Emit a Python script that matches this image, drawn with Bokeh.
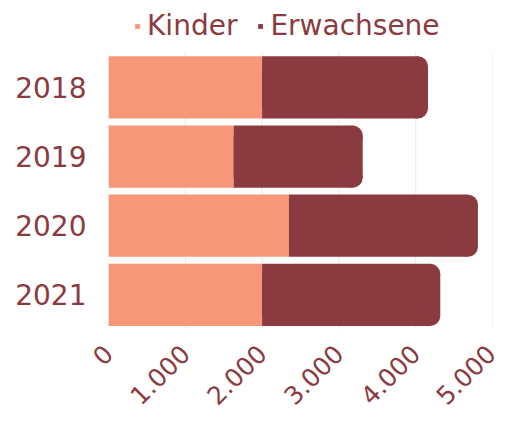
from bokeh.plotting import figure
from bokeh.models import (Range1d, Legend, LegendItem, ColumnDataSource,
                          FixedTicker, CustomJSTickFormatter)
from bokeh.embed import file_html
from bokeh.resources import INLINE
import math

years = ["2018", "2019", "2020", "2021"]
kinder = [2000, 1630, 2350, 2000]
erwachsene = [2160, 1680, 2460, 2320]
tick_values = [0, 1000, 2000, 3000, 4000, 5000]
tick_labels = ["0", "1.000", "2.000", "3.000", "4.000", "5.000"]
series_names = ["Kinder", "Erwachsene"]
colors = ["#F6977A", "#8B3B40"]
text_color = "#8B3B40"
grid_color = "#EFE4E6"
FONT = "DejaVu Sans"

BAR_H = 0.9
R_X = 130      # corner radius in x data units (~10 px)
R_Y = 0.145    # corner radius in category units (~10 px)
TOP_SPACE = 0.756  # room above the bars for the legend, in category units

n = len(years)
ypos = list(range(n, 0, -1))  # 2018 on top
totals = [k + e for k, e in zip(kinder, erwachsene)]
src = ColumnDataSource(dict(y=ypos, kinder=kinder, total=totals,
                            zero=[0] * n,
                            inner=[t - R_X for t in totals],
                            ytop=[v + (BAR_H / 2 - R_Y) for v in ypos],
                            ybot=[v - (BAR_H / 2 - R_Y) for v in ypos]))
grid_src = ColumnDataSource(dict(x=tick_values,
                                 y0=[0.5] * len(tick_values),
                                 y1=[n + 0.5] * len(tick_values)))

p = figure(width=497, height=415, output_backend="svg", toolbar_location=None,
           y_range=Range1d(start=0.5, end=n + 0.5 + TOP_SPACE),
           x_range=Range1d(start=0, end=5000),
           min_border_left=108, min_border_right=5, min_border_top=0,
           min_border_bottom=85)

p.segment(x0="x", x1="x", y0="y0", y1="y1", source=grid_src,
          line_color=grid_color, line_width=1)

r1 = p.hbar(y="y", left="zero", right="kinder", height=BAR_H, source=src,
            fill_color=colors[0], line_color=None)
r2 = p.hbar(y="y", left="kinder", right="inner", height=BAR_H, source=src,
            fill_color=colors[1], line_color=None)
p.hbar(y="y", left="kinder", right="total", height=BAR_H - 2 * R_Y,
       source=src, fill_color=colors[1], line_color=None)
p.scatter(x="inner", y="ytop", size=2 * 10, marker="circle", source=src,
          fill_color=colors[1], line_color=None)
p.scatter(x="inner", y="ybot", size=2 * 10, marker="circle", source=src,
          fill_color=colors[1], line_color=None)

p.xaxis.ticker = FixedTicker(ticks=tick_values)
p.xaxis.formatter = CustomJSTickFormatter(
    args=dict(vals=tick_values, labs=tick_labels),
    code="const i = vals.indexOf(tick); return i >= 0 ? labs[i] : String(tick);")
p.xaxis.major_label_orientation = math.pi / 4

p.yaxis.ticker = FixedTicker(ticks=ypos)
p.yaxis.formatter = CustomJSTickFormatter(
    args=dict(vals=ypos, labs=years),
    code="const i = vals.indexOf(tick); return i >= 0 ? labs[i] : '';")

for ax in (p.xaxis[0], p.yaxis[0]):
    ax.axis_line_color = None
    ax.major_tick_line_color = None
    ax.minor_tick_line_color = None
    ax.major_label_text_font = FONT
    ax.major_label_text_color = text_color
p.yaxis.major_label_text_font_size = "28px"
p.xaxis.major_label_text_font_size = "25px"
p.yaxis.major_label_standoff = 16
p.xaxis.major_label_standoff = 14

p.xgrid.grid_line_color = None
p.ygrid.grid_line_color = None
p.outline_line_color = None

legend = Legend(items=[LegendItem(label=series_names[0], renderers=[r1]),
                       LegendItem(label=series_names[1], renderers=[r2])],
                orientation="horizontal", location=(26, 287),
                label_text_font=FONT, label_text_font_size="28px",
                label_text_color=text_color, glyph_width=6, glyph_height=6,
                label_standoff=7, spacing=20, padding=2, margin=0,
                border_line_color=None, background_fill_alpha=0)
p.add_layout(legend, "center")

open("out.html", "w").write(file_html(p, INLINE))
